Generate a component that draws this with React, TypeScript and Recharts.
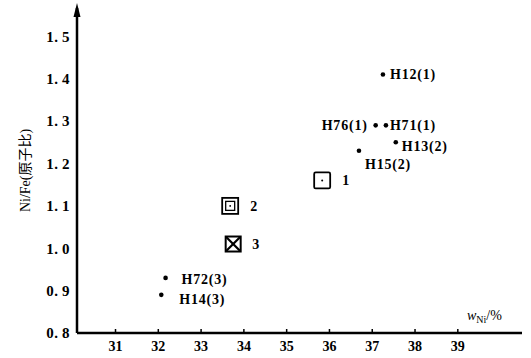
import { ReferenceDot, Scatter, ScatterChart, XAxis, YAxis } from 'recharts'

// 样品编号 / w(Ni)% / Ni/Fe 原子比 / 标记类型
const names = ['H12(1)', 'H76(1)', 'H71(1)', 'H13(2)', 'H15(2)', '1', '2', '3', 'H72(3)', 'H14(3)']
const wNi = [37.25, 37.08, 37.32, 37.55, 36.69, 35.83, 33.68, 33.75, 32.17, 32.07]
const ratio = [1.41, 1.29, 1.29, 1.25, 1.23, 1.16, 1.1, 1.01, 0.93, 0.89]
const marks = ['dot', 'dot', 'dot', 'dot', 'dot', 'box', 'boxIn', 'boxX', 'dot', 'dot']

const xTicks = [31, 32, 33, 34, 35, 36, 37, 38, 39]
const yTicks = [0.8, 0.9, 1.0, 1.1, 1.2, 1.3, 1.4, 1.5]

// label placement (dx, dy from the marker centre)
const labelOffset: Record<string, [number, number, 'start' | 'end']> = {
  'H12(1)': [7, 0, 'start'],
  'H76(1)': [-8, 0, 'end'],
  'H71(1)': [4, 0, 'start'],
  'H13(2)': [6, 4, 'start'],
  'H15(2)': [6, 13, 'start'],
  '1': [20, 0, 'start'],
  '2': [20, 0, 'start'],
  '3': [19, 0, 'start'],
  'H72(3)': [16, 1, 'start'],
  'H14(3)': [18, 4, 'start'],
}

const data = names.map((name, i) => ({ name, x: wNi[i], y: ratio[i], mark: marks[i] }))

const FONT = "'Liberation Serif', 'Noto Sans CJK SC', serif"

function Marker(props: any) {
  const { cx, cy, payload } = props
  const [dx, dy, anchor] = labelOffset[payload.name]
  let shape = null
  if (payload.mark === 'dot') {
    shape = <circle cx={cx} cy={cy} r={2.3} fill="#000" />
  } else if (payload.mark === 'box') {
    shape = (
      <g>
        <rect x={cx - 8} y={cy - 8} width={16} height={16} rx={1.5} fill="none" stroke="#000" strokeWidth={1.8} />
        <circle cx={cx} cy={cy} r={1} fill="#000" />
      </g>
    )
  } else if (payload.mark === 'boxIn') {
    shape = (
      <g>
        <rect x={cx - 8} y={cy - 8} width={16} height={16} fill="none" stroke="#000" strokeWidth={1.8} />
        <rect x={cx - 4.5} y={cy - 4.5} width={9} height={9} fill="none" stroke="#000" strokeWidth={1.3} />
        <circle cx={cx} cy={cy} r={0.9} fill="#000" />
      </g>
    )
  } else {
    shape = (
      <g>
        <rect x={cx - 7.5} y={cy - 7.5} width={15} height={15} fill="none" stroke="#000" strokeWidth={2} />
        <line x1={cx - 7} y1={cy - 7} x2={cx + 7} y2={cy + 7} stroke="#000" strokeWidth={2.2} />
        <line x1={cx + 7} y1={cy - 7} x2={cx - 7} y2={cy + 7} stroke="#000" strokeWidth={2.2} />
      </g>
    )
  }
  return (
    <g>
      {shape}
      <text
        x={cx + dx}
        y={cy + dy}
        dy="0.35em"
        textAnchor={anchor}
        fontFamily={FONT}
        fontWeight="bold"
        fontSize={14}
        letterSpacing={0.8}
        fill="#000"
      >
        {payload.name}
      </text>
    </g>
  )
}

function XTick(props: any) {
  const { x, y, payload } = props
  return (
    <g>
      <line x1={x} y1={y - 4} x2={x} y2={y} stroke="#000" strokeWidth={1.5} />
      <text x={x} y={y + 18} textAnchor="middle" fontFamily={FONT} fontWeight="bold" fontSize={14} fill="#000">
        {payload.value}
      </text>
    </g>
  )
}

function YTick(props: any) {
  const { x, y, payload } = props
  const s = Number(payload.value).toFixed(1).replace('.', '.\u2009')
  return (
    <text
      x={x - 7}
      y={y}
      dy="0.35em"
      textAnchor="end"
      fontFamily={FONT}
      fontWeight="bold"
      fontSize={15}
      letterSpacing={0.5}
      fill="#000"
    >
      {s}
    </text>
  )
}

function YLabel(props: any) {
  const { viewBox } = props
  const cx = 25
  const cy = viewBox.y + viewBox.height / 2
  return (
    <text
      x={cx}
      y={cy}
      dy="0.35em"
      textAnchor="middle"
      transform={`rotate(-90, ${cx}, ${cy})`}
      fontFamily={FONT}
      fontSize={14}
      fill="#000"
    >
      Ni/Fe(原子比)
    </text>
  )
}

function XLabel(props: any) {
  const { viewBox } = props
  const x = viewBox.x + viewBox.width - 55
  const y = viewBox.y - 13
  return (
    <text x={x} y={y} fontFamily={FONT} fontSize={14} fill="#000">
      <tspan fontStyle="italic">w</tspan>
      <tspan dy={3} fontSize={10}>Ni</tspan>
      <tspan dy={-3}>/%</tspan>
    </text>
  )
}

function Arrow(props: any) {
  const { cx, cy } = props
  return <path d={`M${cx},${cy - 5} L${cx - 3.5},${cy + 9} L${cx + 3.5},${cy + 9} Z`} fill="#000" />
}

export default function App() {
  return (
    <div style={{ position: 'absolute', left: 0, top: 0, background: '#fff' }}>
      <ScatterChart width={531} height={358} margin={{ top: 8, right: 9, bottom: 0, left: 7 }}>
        <XAxis
          type="number"
          dataKey="x"
          domain={[30.1, 40.5]}
          ticks={xTicks}
          tickLine={false}
          tickSize={0}
          tickMargin={0}
          height={25}
          axisLine={{ stroke: '#000', strokeWidth: 2.5 }}
          tick={<XTick />}
          label={<XLabel />}
          allowDataOverflow
        />
        <YAxis
          type="number"
          dataKey="y"
          domain={[0.8, 1.567]}
          ticks={yTicks}
          tickLine={false}
          tickSize={0}
          tickMargin={0}
          width={70}
          axisLine={{ stroke: '#000', strokeWidth: 2.5 }}
          tick={<YTick />}
          label={<YLabel />}
          allowDataOverflow
        />
        <Scatter data={data} shape={<Marker />} isAnimationActive={false} />
        <ReferenceDot x={30.1} y={1.567} ifOverflow="visible" shape={<Arrow />} />
      </ScatterChart>
    </div>
  )
}
